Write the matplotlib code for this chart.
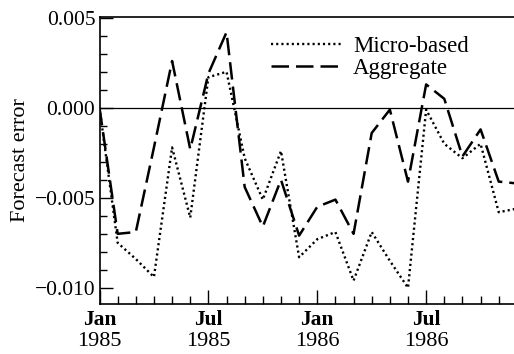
import numpy as np
import matplotlib
matplotlib.use('Agg')
import matplotlib.pyplot as plt
import matplotlib.transforms as mtransforms
from matplotlib.ticker import MultipleLocator, FixedLocator

# ------------------------------------------------------------
#  data (monthly forecast errors, Jan 1985 - Dec 1986)
# ------------------------------------------------------------
months = np.arange(24)
micro_based = [0.0000, -0.0075, -0.0084, -0.0094, -0.0022, -0.0061, 0.0017, 0.0020,
               -0.0028, -0.0051, -0.0024, -0.0083, -0.0073, -0.0069, -0.0096, -0.0069,
               -0.0085, -0.0100, -0.0001, -0.0020, -0.0028, -0.0020, -0.0058, -0.0056]
aggregate = [0.0000, -0.0070, -0.0069, -0.0022, 0.0026, -0.0023, 0.0019, 0.0042,
             -0.0044, -0.0066, -0.0040, -0.0071, -0.0055, -0.0051, -0.0070, -0.0014,
             -0.0001, -0.0041, 0.0013, 0.0005, -0.0027, -0.0012, -0.0041, -0.0042]

major_pos = [0, 6, 12, 18]
major_months = ['Jan', 'Jul', 'Jan', 'Jul']
major_years = ['1985', '1985', '1986', '1986']
y_ticks = [-0.010, -0.005, 0.000, 0.005]

plt.rcParams['font.family'] = ['Liberation Serif', 'DejaVu Serif']

fig = plt.figure(figsize=(5.14, 3.54), dpi=100)
ax = fig.add_axes([0.1936, 0.1412, 0.812, 0.811])

ax.plot(months, micro_based, color='black', lw=1.7, ls=(0, (0.9, 1.3)),
        label='Micro-based')
ax.plot(months, aggregate, color='black', lw=1.8, ls=(0, (7, 2.8)),
        label='Aggregate')
ax.axhline(0, color='black', lw=0.9)

ax.set_xlim(0, 23)
ax.set_ylim(-0.0109, 0.00505)

# y ticks
ax.yaxis.set_major_locator(FixedLocator(y_ticks))
ax.yaxis.set_minor_locator(MultipleLocator(0.001))
ax.set_yticklabels(['\u22120.010', '\u22120.005', '0.000', '0.005'])
ax.tick_params(axis='y', which='major', direction='in', length=9, width=1,
               labelsize=15.5, pad=3)
ax.tick_params(axis='y', which='minor', direction='in', length=5, width=1)

# x ticks
ax.xaxis.set_major_locator(FixedLocator(major_pos))
ax.xaxis.set_minor_locator(MultipleLocator(1))
ax.set_xticklabels(major_months, fontweight='bold')
ax.tick_params(axis='x', which='major', direction='in', length=10, width=1,
               labelsize=15.5, pad=4)
ax.tick_params(axis='x', which='minor', direction='in', length=6, width=1)
trans = mtransforms.blended_transform_factory(ax.transData, ax.transAxes)
for p, yr in zip(major_pos, major_years):
    ax.text(p, -0.098, yr, transform=trans, ha='center', va='top', fontsize=16)

ax.set_ylabel('Forecast error', fontsize=16, labelpad=3)

for side in ['left', 'top', 'bottom']:
    ax.spines[side].set_linewidth(1.2)
ax.spines['right'].set_visible(False)

ax.legend(loc='upper left', bbox_to_anchor=(0.39, 0.965), frameon=False,
          fontsize=16.5, handlelength=3.05, handletextpad=0.5,
          labelspacing=0.05, borderaxespad=0)

fig.savefig('out.png', dpi=100)
